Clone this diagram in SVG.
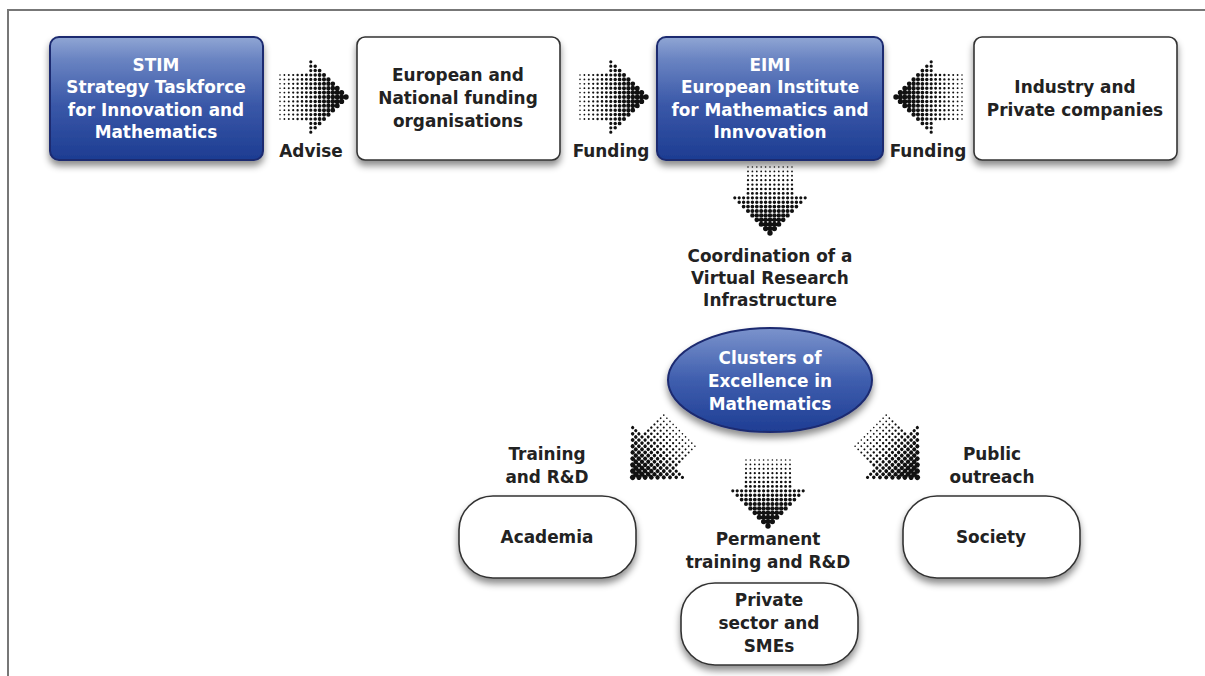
<svg xmlns="http://www.w3.org/2000/svg" xmlns:xlink="http://www.w3.org/1999/xlink" width="1205" height="676" viewBox="0 0 1205 676">
<style>
.t{font-family:"DejaVu Sans","Liberation Sans",sans-serif;font-weight:bold;font-size:16.9px;text-anchor:middle;fill:#222}
.w{fill:#fff}
.box{fill:#fff;stroke:#333;stroke-width:1.6}
.blue{fill:url(#bg);stroke:#1c2a70;stroke-width:2}
.ell{fill:url(#eg);stroke:#1c2a70;stroke-width:2}
.hd line{stroke:#111;stroke-linecap:round;stroke-dasharray:0 4.4}
.frame{stroke:#777;stroke-width:2;fill:none}
</style>
<defs>
<linearGradient id="bg" x1="0" y1="0" x2="0" y2="1">
<stop offset="0" stop-color="#90a6d4"/>
<stop offset="0.18" stop-color="#6a84c2"/>
<stop offset="0.55" stop-color="#3a58a8"/>
<stop offset="1" stop-color="#1d3c92"/>
</linearGradient>
<linearGradient id="eg" x1="0" y1="0" x2="0" y2="1">
<stop offset="0" stop-color="#7b93cc"/>
<stop offset="0.5" stop-color="#3f5eae"/>
<stop offset="1" stop-color="#1e3d94"/>
</linearGradient>
<filter id="sh" x="-20%" y="-20%" width="140%" height="150%">
<feDropShadow dx="0" dy="5" stdDeviation="3.5" flood-color="#000" flood-opacity="0.45"/>
</filter>
<g id="ha" class="hd">
<line x1="-33" y1="-22" x2="-33" y2="22.1" stroke-width="1.6"/>
<line x1="-28.6" y1="-22" x2="-28.6" y2="22.1" stroke-width="1.8"/>
<line x1="-24.2" y1="-22" x2="-24.2" y2="22.1" stroke-width="2.0"/>
<line x1="-19.8" y1="-22" x2="-19.8" y2="22.1" stroke-width="2.2"/>
<line x1="-15.4" y1="-22" x2="-15.4" y2="22.1" stroke-width="2.4"/>
<line x1="-11" y1="-22" x2="-11" y2="22.1" stroke-width="2.6"/>
<line x1="-6.6" y1="-22" x2="-6.6" y2="22.1" stroke-width="2.9"/>
<line x1="-2.2" y1="-35.2" x2="-2.2" y2="35.3" stroke-width="3.2"/>
<line x1="2.2" y1="-30.8" x2="2.2" y2="30.9" stroke-width="3.5"/>
<line x1="6.6" y1="-26.4" x2="6.6" y2="26.5" stroke-width="3.8"/>
<line x1="11" y1="-22" x2="11" y2="22.1" stroke-width="4.1"/>
<line x1="15.4" y1="-17.6" x2="15.4" y2="17.7" stroke-width="4.4"/>
<line x1="19.8" y1="-13.2" x2="19.8" y2="13.3" stroke-width="4.7"/>
<line x1="24.2" y1="-8.8" x2="24.2" y2="8.9" stroke-width="5.0"/>
<line x1="28.6" y1="-4.4" x2="28.6" y2="4.5" stroke-width="5.2"/>
<line x1="33" y1="0" x2="33" y2="0.1" stroke-width="5.4"/>
</g>
</defs>
<rect width="1205" height="676" fill="#fff"/>
<path class="frame" d="M8 676 V10 H1205"/>

<g id="connectors">
<use xlink:href="#ha" transform="translate(313,97)"/>
<use xlink:href="#ha" transform="translate(613,97)"/>
<use xlink:href="#ha" transform="translate(929,97) rotate(180)"/>
<use xlink:href="#ha" transform="translate(770,200) rotate(90)"/>
<use xlink:href="#ha" transform="translate(656,454) rotate(135)"/>
<use xlink:href="#ha" transform="translate(894,454) rotate(45)"/>
<use xlink:href="#ha" transform="translate(768,493) rotate(90)"/>
<text class="t" x="311" y="157">Advise</text>
<text class="t" x="611" y="157">Funding</text>
<text class="t" x="928" y="157">Funding</text>
<text class="t" x="770" y="262">Coordination of a</text>
<text class="t" x="770" y="284">Virtual Research</text>
<text class="t" x="770" y="306">Infrastructure</text>
<text class="t" x="547" y="460">Training</text>
<text class="t" x="547" y="483">and R&amp;D</text>
<text class="t" x="992" y="460">Public</text>
<text class="t" x="992" y="483">outreach</text>
<text class="t" x="768" y="545">Permanent</text>
<text class="t" x="768" y="568">training and R&amp;D</text>
</g>

<g id="stim">
<rect class="blue" x="50" y="37" width="213" height="123" rx="9" filter="url(#sh)"/>
<text class="t w" x="156" y="71">STIM</text>
<text class="t w" x="156" y="93">Strategy Taskforce</text>
<text class="t w" x="156" y="116">for Innovation and</text>
<text class="t w" x="156" y="138">Mathematics</text>
</g>
<g id="european">
<rect class="box" x="357" y="37" width="203" height="123" rx="8" filter="url(#sh)"/>
<text class="t" x="458" y="81">European and</text>
<text class="t" x="458" y="104">National funding</text>
<text class="t" x="458" y="127">organisations</text>
</g>
<g id="eimi">
<rect class="blue" x="657" y="37" width="226" height="123" rx="9" filter="url(#sh)"/>
<text class="t w" x="770" y="71">EIMI</text>
<text class="t w" x="770" y="93">European Institute</text>
<text class="t w" x="770" y="116">for Mathematics and</text>
<text class="t w" x="770" y="138">Innvovation</text>
</g>
<g id="industry">
<rect class="box" x="974" y="37" width="203" height="123" rx="8" filter="url(#sh)"/>
<text class="t" x="1075" y="93">Industry and</text>
<text class="t" x="1075" y="116">Private companies</text>
</g>
<g id="clusters">
<ellipse class="ell" cx="770" cy="380" rx="102" ry="52" filter="url(#sh)"/>
<text class="t w" x="770" y="364">Clusters of</text>
<text class="t w" x="770" y="387">Excellence in</text>
<text class="t w" x="770" y="410">Mathematics</text>
</g>
<g id="academia">
<rect class="box" x="459" y="496" width="177" height="82" rx="34" filter="url(#sh)"/>
<text class="t" x="547" y="543">Academia</text>
</g>
<g id="society">
<rect class="box" x="903" y="496" width="177" height="82" rx="34" filter="url(#sh)"/>
<text class="t" x="991" y="543">Society</text>
</g>
<g id="private">
<rect class="box" x="681" y="583" width="177" height="82" rx="34" filter="url(#sh)"/>
<text class="t" x="769" y="606">Private</text>
<text class="t" x="769" y="629">sector and</text>
<text class="t" x="769" y="652">SMEs</text>
</g>
</svg>
